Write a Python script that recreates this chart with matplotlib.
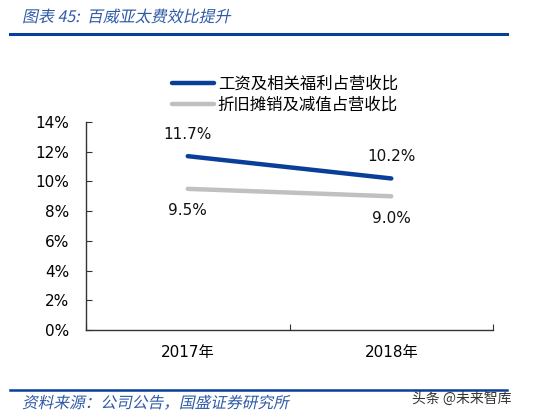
import matplotlib
matplotlib.use("Agg")
import matplotlib.pyplot as plt
from matplotlib.lines import Line2D
from matplotlib.textpath import TextPath
from matplotlib.patches import PathPatch
from matplotlib.font_manager import FontProperties
from matplotlib.transforms import Affine2D

plt.rcParams['font.family'] = ['DejaVu Sans', 'Noto Sans CJK SC']

categories = ["2017年", "2018年"]
series_names = ["工资及相关福利占营收比", "折旧摊销及减值占营收比"]
wages = [11.7, 10.2]
depr = [9.5, 9.0]
yticks = [0, 2, 4, 6, 8, 10, 12, 14]
title = "图表 45:  百威亚太费效比提升"
source = "资料来源：公司公告，国盛证券研究所"
watermark = "头条 @未来智库"

blue = "#0A3F99"
gray = "#C0C0C0"
title_blue = "#2F5AA8"

DPI = 100
fig = plt.figure(figsize=(5.48, 4.17), dpi=DPI)
W, H = 548, 417
ax = fig.add_axes([86 / W, 1 - 330 / H, (493 - 86) / W, (330 - 122) / H])

x = list(range(len(categories)))
ax.plot(x, wages, color=blue, lw=3.2, solid_capstyle='round')
ax.plot(x, depr, color=gray, lw=3.2, solid_capstyle='round')

for i, v in enumerate(wages):
    ax.annotate(f"{v:.1f}%", (i, v), xytext=(0, 10.5), textcoords='offset points',
                ha='center', va='bottom', fontsize=11, color='#111111')
for i, v in enumerate(depr):
    ax.annotate(f"{v:.1f}%", (i, v), xytext=(0, -10.5), textcoords='offset points',
                ha='center', va='top', fontsize=11, color='#111111')

ax.set_xlim(-0.5, 1.5)
ax.set_ylim(0, 14)
ax.set_yticks(yticks)
ax.set_yticklabels([f"{t}%" for t in yticks], fontsize=11)
ax.set_xticks([-0.5, 0.5, 1.5])
ax.set_xticklabels([])
ax.set_xticks(x, minor=True)
ax.set_xticklabels(categories, minor=True, fontsize=11,
                   family=['DejaVu Sans', 'Noto Sans CJK SC'])
ax.tick_params(axis='x', which='minor', length=0, pad=11)
ax.tick_params(axis='x', which='major', direction='in', length=4, color='#333333')
ax.tick_params(axis='y', direction='in', length=4, color='#333333', pad=12)
for s in ['top', 'right']:
    ax.spines[s].set_visible(False)
for s in ['left', 'bottom']:
    ax.spines[s].set_color('#333333')
    ax.spines[s].set_linewidth(1.0)

handles = [Line2D([], [], color=blue, lw=3.2, solid_capstyle='round'),
           Line2D([], [], color=gray, lw=3.2, solid_capstyle='round')]
fig.legend(handles, series_names, loc='upper left',
           bbox_to_anchor=(157 / W, 1 - 61 / H), frameon=False,
           handlelength=2.6, handletextpad=0.2, labelspacing=0.25,
           prop={'family': ['Noto Sans CJK SC'], 'size': 11.8})


def slanted_text(s, x_px, base_px, size, color):
    tp = TextPath((0, 0), s, size=size, prop=FontProperties(family='Noto Sans CJK SC'))
    tr = (Affine2D().skew_deg(12, 0).scale(1 / 72.)
          .translate(x_px / DPI, (H - base_px) / DPI) + fig.dpi_scale_trans)
    fig.add_artist(PathPatch(tp, transform=tr, facecolor=color, edgecolor='none'))


slanted_text(title, 22, 22, 11.5, title_blue)
slanted_text(source, 22, 408, 11.3, title_blue)

fig.add_artist(Line2D([10 / W, 507 / W], [1 - 34 / H, 1 - 34 / H],
                      color='#0A3F99', lw=2.2, transform=fig.transFigure))
fig.add_artist(Line2D([10 / W, 507 / W], [1 - 390 / H, 1 - 390 / H],
                      color='#0A3F99', lw=1.8, transform=fig.transFigure))
fig.text(511 / W, 1 - 399 / H, watermark, ha='right', va='center',
         fontsize=10, color='#333333', family=['Noto Sans CJK SC'])

fig.savefig("out.png", dpi=DPI)
